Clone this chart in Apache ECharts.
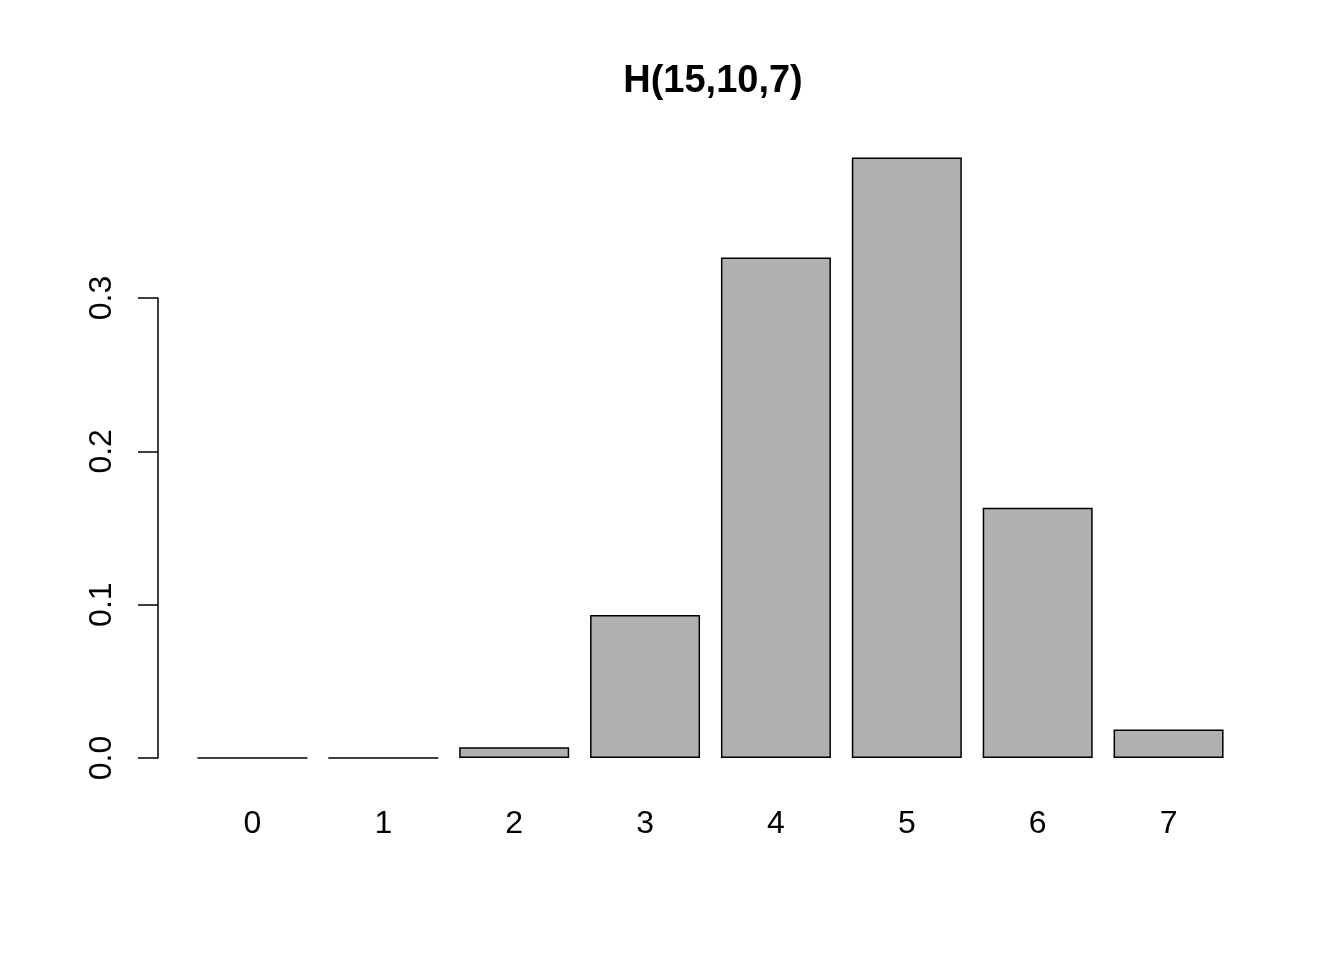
<!DOCTYPE html>
<html>
<head>
<meta charset="utf-8">
<script src="https://cdn.jsdelivr.net/npm/echarts@6/dist/echarts.min.js"></script>
<style>html,body{margin:0;padding:0;background:#fff;}#c{width:1344px;height:960px;}</style>
</head>
<body>
<div id="c"></div>
<script>
var categories = ['0', '1', '2', '3', '4', '5', '6', '7'];
var probs = [0, 0, 0.006993, 0.093240, 0.326340, 0.391608, 0.163170, 0.018648];
var yTicks = [0, 0.1, 0.2, 0.3];
var titleText = 'H(15,10,7)';

var chart = echarts.init(document.getElementById('c'));
var font = 'Liberation Sans, Arial, Helvetica, sans-serif';
chart.setOption({
  animation: false,
  backgroundColor: '#ffffff',
  title: {
    text: titleText,
    left: 708,
    top: 58,
    textAlign: 'center',
    textStyle: { fontFamily: font, fontSize: 38, fontWeight: 'bold', color: '#000' }
  },
  grid: { left: 187, right: 110, top: 298, bottom: 202, containLabel: false },
  xAxis: {
    type: 'category',
    data: categories,
    boundaryGap: true,
    axisLine: { show: false },
    axisTick: { show: false },
    axisLabel: { margin: 50, fontFamily: font, fontSize: 32, color: '#000', lineHeight: 32 }
  },
  yAxis: {
    type: 'value',
    min: 0,
    max: 0.3,
    interval: 0.1,
    offset: 29,
    splitLine: { show: false },
    axisLine: { show: true, lineStyle: { color: '#000', width: 1.5 } },
    axisTick: { show: true, length: 20, lineStyle: { color: '#000', width: 1.5 } },
    axisLabel: {
      rotate: 90,
      margin: 40,
      fontFamily: font,
      fontSize: 32,
      color: '#000',
      formatter: function (v) { return v.toFixed(1); }
    }
  },
  series: [{
    type: 'bar',
    data: probs,
    clip: false,
    barWidth: 110,
    itemStyle: { color: '#b0b0b0', borderColor: '#000', borderWidth: 1.5 },
    silent: true
  }]
});
</script>
</body>
</html>
